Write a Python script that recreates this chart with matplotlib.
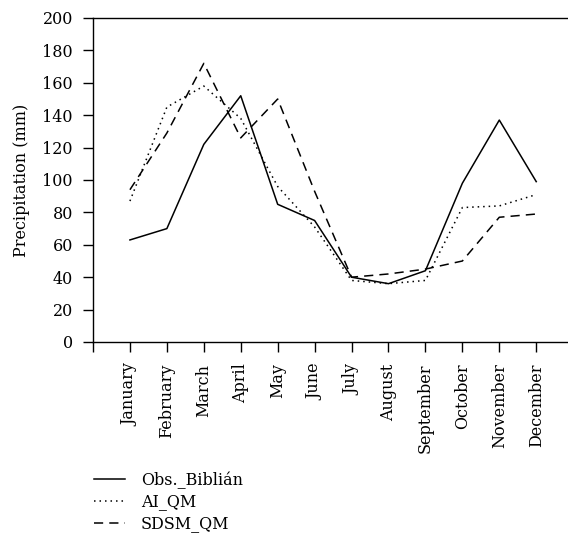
import matplotlib
matplotlib.use("Agg")
import matplotlib.pyplot as plt

months = ["January", "February", "March", "April", "May", "June", "July",
          "August", "September", "October", "November", "December"]
obs_biblian = [63, 70, 122, 152, 85, 75, 40, 36, 44, 98, 137, 99]
ai_qm = [87, 145, 158, 138, 96, 71, 38, 36, 38, 83, 84, 91]
sdsm_qm = [94, 129, 172, 126, 150, 93, 40, 42, 45, 50, 77, 79]
y_ticks = list(range(0, 201, 20))

plt.rcParams["font.family"] = ["DejaVu Serif"]
plt.rcParams["font.size"] = 11.5

fig = plt.figure(figsize=(5.68, 5.43), dpi=100)
ax = fig.add_axes([93 / 568, 1 - 342 / 543, 1 - 93 / 568, 324 / 543])

x = list(range(1, len(months) + 1))
ax.plot(x, obs_biblian, color="black", lw=1.1, linestyle="-", label="Obs._Biblián")
ax.plot(x, ai_qm, color="black", lw=1.1, linestyle=(0, (1, 2.6)), label="AI_QM")
ax.plot(x, sdsm_qm, color="black", lw=1.1, linestyle=(0, (6, 4)), label="SDSM_QM")

ax.set_xlim(0, 12.86)
ax.set_ylim(0, 200)
ax.set_yticks(y_ticks)
ax.set_xticks([0] + x)
ax.set_xticklabels([""] + months, rotation=90)
ax.set_ylabel("Precipitation (mm)")
ax.yaxis.set_label_coords(-63 / 475, 0.5)
ax.spines["right"].set_visible(False)
for s in ["left", "bottom", "top"]:
    ax.spines[s].set_linewidth(1.0)
ax.tick_params(axis="both", direction="out", length=7.5, width=1.0, colors="black")
ax.tick_params(axis="x", pad=8)
ax.tick_params(axis="y", pad=7)

fig.legend(loc="upper left", bbox_to_anchor=(80 / 568, 1 - 457 / 543),
           frameon=False, handlelength=1.9, handletextpad=1.0, labelspacing=0.3,
           fontsize=11.5)

fig.savefig("out.png", dpi=100)
